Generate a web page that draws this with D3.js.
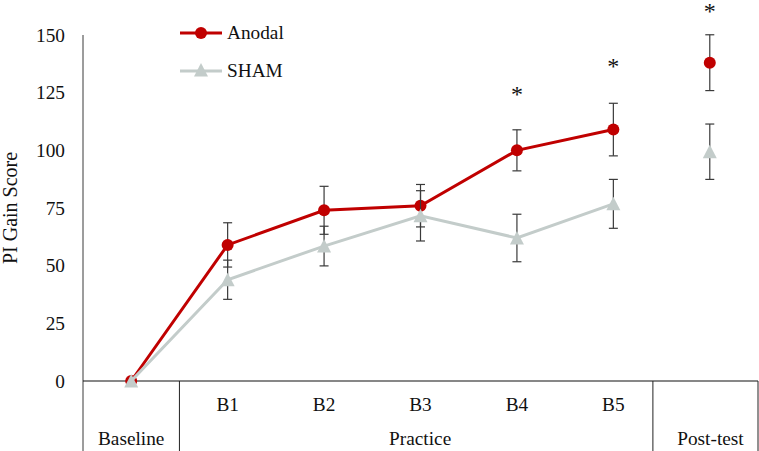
<!DOCTYPE html>
<html><head><meta charset="utf-8">
<script src="https://cdn.jsdelivr.net/npm/d3@7"></script>
<style>body{margin:0;background:#fff}svg{display:block;font-family:"Liberation Serif","Times New Roman",serif}</style>
</head><body>
<svg id="c" width="759" height="451"></svg>
<script>
const categories = ["Baseline","B1","B2","B3","B4","B5","Post-test"];
const innerLabels = ["","B1","B2","B3","B4","B5",""];
const groups = [{name:"Baseline",from:"Baseline",to:"Baseline"},{name:"Practice",from:"B1",to:"B5"},{name:"Post-test",from:"Post-test",to:"Post-test"}];
const anodal = [0, 59, 74, 76, 100, 109, 138];
const anodalErr = [0, 9.6, 10.4, 9.2, 8.9, 11.4, 12.1];
const sham = [0, 43.9, 58.5, 71.6, 62, 76.8, 99.4];
const shamErr = [0, 8.5, 8.6, 10.9, 10.3, 10.6, 12];
const sigCats = ["B4","B5","Post-test"];
const sigY = [126, 138.5, 162];
const yTicks = [0,25,50,75,100,125,150];
const seriesNames = ["Anodal","SHAM"];

const svg = d3.select("#c");
const L=83, R=758, T=35, B=381, H=451;
const FS = 19.3;
const red="#C00000", grey="#C3CCCA", axisCol="#3a3a3a";
const x = d3.scalePoint().domain(categories).range([L,R]).padding(0.5);
const y = d3.scaleLinear().domain([0,150]).range([B,T]);
const step = x.step();

// y axis
const ya = svg.append("g").attr("transform",`translate(${L},0)`)
  .call(d3.axisLeft(y).tickValues(yTicks).tickSize(0).tickPadding(18));
ya.select(".domain").remove();
ya.selectAll("text").attr("font-size",FS).attr("font-family","Liberation Serif").attr("fill","#111");
svg.append("line").attr("x1",L).attr("x2",L).attr("y1",y(150)).attr("y2",H).attr("stroke",axisCol).attr("stroke-width",1);

// x axis line
svg.append("line").attr("x1",L).attr("x2",R).attr("y1",y(0)).attr("y2",y(0)).attr("stroke","#111").attr("stroke-width",1.2);
// group dividers
const dividers = [x("B1")-step/2, x("Post-test")-step*0.59, R];
dividers.forEach(d=>svg.append("line").attr("x1",d).attr("x2",d).attr("y1",y(0)).attr("y2",H).attr("stroke","#222").attr("stroke-width",1));
// inner labels
svg.append("g").selectAll("text").data(categories).join("text")
  .attr("x",d=>x(d)).attr("y",y(0)+30).attr("text-anchor","middle").attr("font-size",FS).attr("fill","#111")
  .text((d,i)=>innerLabels[i]);
// group labels
const gx = g => {
  if(g.name==="Baseline") return (L+dividers[0])/2;
  if(g.name==="Practice") return (dividers[0]+dividers[1])/2+4;
  return (dividers[1]+dividers[2])/2+5;
};
svg.append("g").selectAll("text").data(groups).join("text")
  .attr("x",gx).attr("y",y(0)+64).attr("text-anchor","middle").attr("font-size",FS).attr("fill","#111")
  .text(d=>d.name);

// y title
svg.append("text").attr("transform",`translate(17,${(y(0)+y(150))/2}) rotate(-90)`)
  .attr("text-anchor","middle").attr("font-size",20).attr("fill","#111").text("PI Gain Score");

const lineIdx = [0,1,2,3,4,5];
const line = vals => d3.line().x(i=>x(categories[i])).y(i=>y(vals[i]))(lineIdx);

function errBars(vals, errs){
  const g = svg.append("g");
  categories.forEach((c,i)=>{
    if(!errs[i]) return;
    const cx=x(c), y1=y(vals[i]+errs[i]), y2=y(vals[i]-errs[i]);
    g.append("line").attr("x1",cx).attr("x2",cx).attr("y1",y1).attr("y2",y2).attr("stroke",axisCol).attr("stroke-width",1.2);
    [y1,y2].forEach(yy=>g.append("line").attr("x1",cx-4.5).attr("x2",cx+4.5).attr("y1",yy).attr("y2",yy).attr("stroke",axisCol).attr("stroke-width",1.2));
  });
}
// triangle centred on its bounding box
const tri = "M0,-7L7,6.5L-7,6.5Z";

// Anodal
svg.append("path").attr("d",line(anodal)).attr("fill","none").attr("stroke",red).attr("stroke-width",3);
errBars(anodal, anodalErr);
svg.append("g").selectAll("circle").data(anodal).join("circle")
  .attr("cx",(d,i)=>x(categories[i])).attr("cy",d=>y(d)).attr("r",6).attr("fill",red);
// SHAM
svg.append("path").attr("d",line(sham)).attr("fill","none").attr("stroke",grey).attr("stroke-width",3);
errBars(sham, shamErr);
svg.append("g").selectAll("path").data(sham).join("path")
  .attr("d",tri).attr("transform",(d,i)=>`translate(${x(categories[i])},${y(d)})`).attr("fill",grey);

// significance
svg.append("g").selectAll("text").data(sigCats).join("text")
  .attr("x",d=>x(d)).attr("y",(d,i)=>y(sigY[i])+12).attr("text-anchor","middle").attr("font-size",24).attr("fill","#111").text("*");

// legend
const lg = svg.append("g");
seriesNames.forEach((n,i)=>{
  const ly = 33 + i*38;
  const col = i===0?red:grey;
  lg.append("line").attr("x1",180).attr("x2",222).attr("y1",ly).attr("y2",ly).attr("stroke",col).attr("stroke-width",3);
  if(i===0) lg.append("circle").attr("cx",201).attr("cy",ly).attr("r",6).attr("fill",red);
  else lg.append("path").attr("d",tri).attr("transform",`translate(201,${ly-1})`).attr("fill",grey);
  lg.append("text").attr("x",227).attr("y",ly+6).attr("font-size",FS).attr("fill","#111").text(n);
});
</script>
</body></html>
